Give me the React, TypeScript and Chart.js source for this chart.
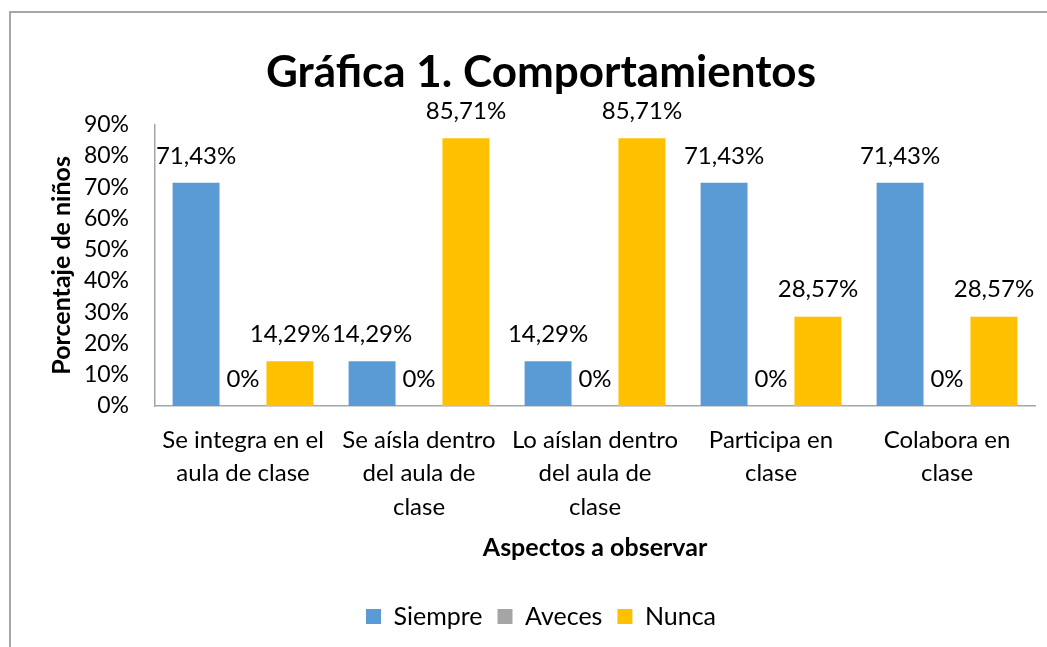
import React, { useEffect, useRef } from "react";
import { Chart, registerables } from "chart.js";

Chart.register(...registerables);

const categories: string[][] = [
  ["Se integra en el", "aula de clase"],
  ["Se aísla dentro", "del aula de", "clase"],
  ["Lo aíslan dentro", "del aula de", "clase"],
  ["Participa en", "clase"],
  ["Colabora en", "clase"],
];
const siempre = [71.43, 14.29, 14.29, 71.43, 71.43];
const aveces = [0, 0, 0, 0, 0];
const nunca = [14.29, 85.71, 85.71, 28.57, 28.57];
const seriesNames = ["Siempre", "Aveces", "Nunca"];
const seriesColors = ["#5B9BD5", "#A5A5A5", "#FFC000"];
const yTicks = [0, 10, 20, 30, 40, 50, 60, 70, 80, 90];

const FONT = "Lato, 'Open Sans', sans-serif";

const fmt = (v: number) => (v === 0 ? "0%" : v.toFixed(2).replace(".", ",") + "%");

const labelPlugin = {
  id: "barLabels",
  afterDatasetsDraw(chart: any) {
    const ctx = chart.ctx;
    ctx.save();
    ctx.font = `24px ${FONT}`;
    ctx.fillStyle = "#000";
    ctx.textAlign = "center";
    ctx.textBaseline = "middle";
    chart.data.datasets.forEach((ds: any, i: number) => {
      const meta = chart.getDatasetMeta(i);
      meta.data.forEach((el: any, j: number) => {
        ctx.fillText(fmt(ds.data[j]), el.x, el.y - 27);
      });
    });
    ctx.restore();
  },
};

export default function App() {
  const ref = useRef<HTMLCanvasElement | null>(null);
  useEffect(() => {
    document.body.style.margin = "0";
    const chart = new Chart(ref.current!, {
      type: "bar",
      data: {
        labels: categories,
        datasets: [siempre, aveces, nunca].map((d, i) => ({
          label: seriesNames[i],
          data: d,
          backgroundColor: seriesColors[i],
          borderWidth: 0,
          categoryPercentage: 0.8,
          barPercentage: 1.0,
        })),
      },
      options: {
        responsive: false,
        animation: false,
        layout: { padding: { left: 47, right: 12, top: 36, bottom: 8 } },
        plugins: {
          title: {
            display: true,
            text: "Gráfica 1. Comportamientos",
            color: "#000",
            font: { family: FONT, size: 44, weight: "bold" },
            padding: { top: 10, bottom: 26 },
          },
          legend: {
            position: "bottom",
            labels: {
              color: "#000",
              boxWidth: 15,
              boxHeight: 15,
              padding: 15,
              font: { family: FONT, size: 25 },
            },
          },
          tooltip: { enabled: false },
        },
        scales: {
          x: {
            grid: { display: false },
            border: { display: true, color: "#A6A6A6", width: 1.5 },
            afterFit: (s: any) => {
              s.height = 183;
            },
            ticks: {
              color: "#000",
              font: { family: FONT, size: 24, lineHeight: 1.4 },
              maxRotation: 0,
              autoSkip: false,
              padding: 9,
            },
            title: {
              display: true,
              text: "Aspectos a observar",
              color: "#000",
              font: { family: FONT, size: 25, weight: "bold" },
              padding: { top: 0, bottom: 26 },
            },
          },
          y: {
            min: 0,
            max: 90,
            grid: { display: false },
            border: { display: true, color: "#A6A6A6", width: 1.5 },
            afterFit: (s: any) => {
              s.width = 108;
            },
            afterBuildTicks: (s: any) => {
              s.ticks = yTicks.map((v) => ({ value: v }));
            },
            ticks: {
              color: "#000",
              font: { family: FONT, size: 23 },
              padding: 18,
              autoSkip: false,
              callback: (v: any) => v + "%",
            },
            title: {
              display: true,
              text: "Porcentaje de niños",
              color: "#000",
              font: { family: FONT, size: 25, weight: "bold" },
              padding: { top: 0, bottom: 8 },
            },
          },
        },
      },
      plugins: [labelPlugin],
    });
    return () => chart.destroy();
  }, []);
  return (
    <div style={{ position: "relative", width: 1047, height: 647, overflow: "hidden" }}>
      <div
        style={{
          position: "absolute",
          left: 9,
          top: 11,
          width: 1100,
          height: 700,
          borderTop: "2px solid #A6A6A6",
          borderLeft: "2px solid #A6A6A6",
          boxSizing: "border-box",
        }}
      />
      <canvas ref={ref} width={1047} height={647} style={{ position: "absolute", left: 0, top: 0 }} />
    </div>
  );
}
